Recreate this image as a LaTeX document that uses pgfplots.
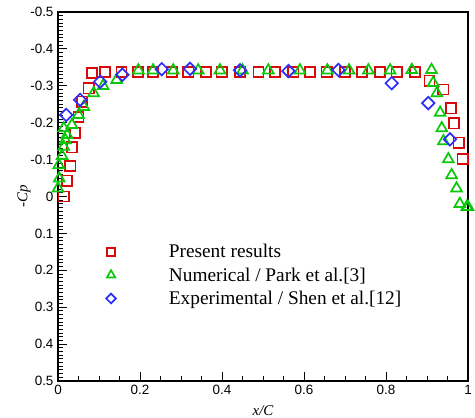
\documentclass[border=0pt]{standalone}
\usepackage{fontspec}
\setmainfont{Liberation Serif}
\newfontfamily\arial{Liberation Sans}
\usepackage{pgfplots}
\pgfplotsset{compat=1.18}
\definecolor{cred}{RGB}{215,10,10}
\definecolor{cgreen}{RGB}{10,200,10}
\definecolor{cblue}{RGB}{45,45,250}
\begin{document}
\begin{tikzpicture}
\useasboundingbox (-58bp,-37bp) rectangle (417bp,381bp);
\begin{axis}[
  at={(0,0)}, anchor=south west,
  scale only axis, width=410bp, height=369bp,
  xmin=0, xmax=1, ymin=-0.5, ymax=0.5,
  y dir=reverse,
  xtick={0,0.2,0.4,0.6,0.8,1},
  ytick={-0.5,-0.4,-0.3,-0.2,-0.1,0,0.1,0.2,0.3,0.4,0.5},
  xticklabels={0,0.2,0.4,0.6,0.8,1},
  yticklabels={-0.5,-0.4,-0.3,-0.2,-0.1,0,0.1,0.2,0.3,0.4,0.5},
  minor x tick num=3, minor y tick num=9,
  tick pos=left, tick align=inside,
  major tick length=9bp, minor tick length=5bp,
  every tick/.style={black, line width=0.9bp},
  axis line style={line width=1.3bp},
  tick label style={font=\arial\fontsize{13.5}{15}\selectfont},
  xticklabel style={yshift=-1bp},
  yticklabel style={xshift=-1bp},
  xlabel={\itshape x/C}, ylabel={\itshape -Cp},
  label style={font=\fontsize{15}{17}\selectfont},
  xlabel style={yshift=-4bp},
  ylabel style={yshift=-7bp},
  legend style={at={(0.1,0.382)}, anchor=north west, draw=none, fill=none,
    font=\fontsize{19.4}{21}\selectfont, row sep=4.5bp, legend cell align=left},
  legend image code/.code={\draw[#1,/tikz/every mark/.append style={scale=0.78}] plot coordinates {(0bp,0bp)}; \path (-8bp,0bp) (55bp,0bp);},
]
\addplot[only marks, color=cred, mark=square, mark size=5.1bp, line width=1.7bp] coordinates {
(0.014,0.0) (0.022,-0.043) (0.030,-0.083) (0.034,-0.133) (0.041,-0.173) (0.050,-0.215) (0.058,-0.257) (0.075,-0.293) (0.083,-0.335) (0.115,-0.338) (0.155,-0.338) (0.195,-0.338) (0.232,-0.338) (0.277,-0.338) (0.318,-0.338) (0.361,-0.338) (0.399,-0.338) (0.444,-0.338) (0.489,-0.338) (0.529,-0.338) (0.574,-0.338) (0.615,-0.338) (0.655,-0.338) (0.700,-0.338) (0.741,-0.338) (0.785,-0.338) (0.826,-0.338) (0.871,-0.338) (0.906,-0.314) (0.940,-0.290) (0.958,-0.239) (0.966,-0.198) (0.977,-0.146) (0.987,-0.102)
};
\addlegendentry{Present results}
\addplot[only marks, color=cgreen, mark=triangle, mark size=6.2bp, line width=1.7bp] coordinates {
(0.000,-0.022) (0.003,-0.049) (0.002,-0.085) (0.010,-0.110) (0.014,-0.135) (0.018,-0.153) (0.022,-0.167) (0.014,-0.185) (0.034,-0.194) (0.050,-0.221) (0.063,-0.243) (0.087,-0.280) (0.110,-0.300) (0.143,-0.316) (0.196,-0.342) (0.232,-0.342) (0.281,-0.342) (0.342,-0.342) (0.395,-0.342) (0.450,-0.342) (0.513,-0.342) (0.590,-0.342) (0.657,-0.342) (0.710,-0.342) (0.757,-0.342) (0.810,-0.342) (0.863,-0.343) (0.911,-0.343) (0.915,-0.308) (0.924,-0.280) (0.932,-0.227) (0.936,-0.185) (0.940,-0.150) (0.952,-0.101) (0.960,-0.058) (0.972,-0.022) (0.980,0.020) (0.997,0.028) (1.000,0.028)
};
\addlegendentry{Numerical / Park et al.[3]}
\addplot[only marks, color=cblue, mark=square, mark size=4.4bp, mark options={rotate=45}, line width=1.7bp] coordinates {
(0.020,-0.221) (0.054,-0.262) (0.103,-0.311) (0.157,-0.330) (0.253,-0.345) (0.322,-0.346) (0.444,-0.342) (0.562,-0.340) (0.684,-0.343) (0.814,-0.307) (0.903,-0.253) (0.956,-0.155)
};
\addlegendentry{Experimental / Shen et al.[12]}
\end{axis}
\end{tikzpicture}
\end{document}
